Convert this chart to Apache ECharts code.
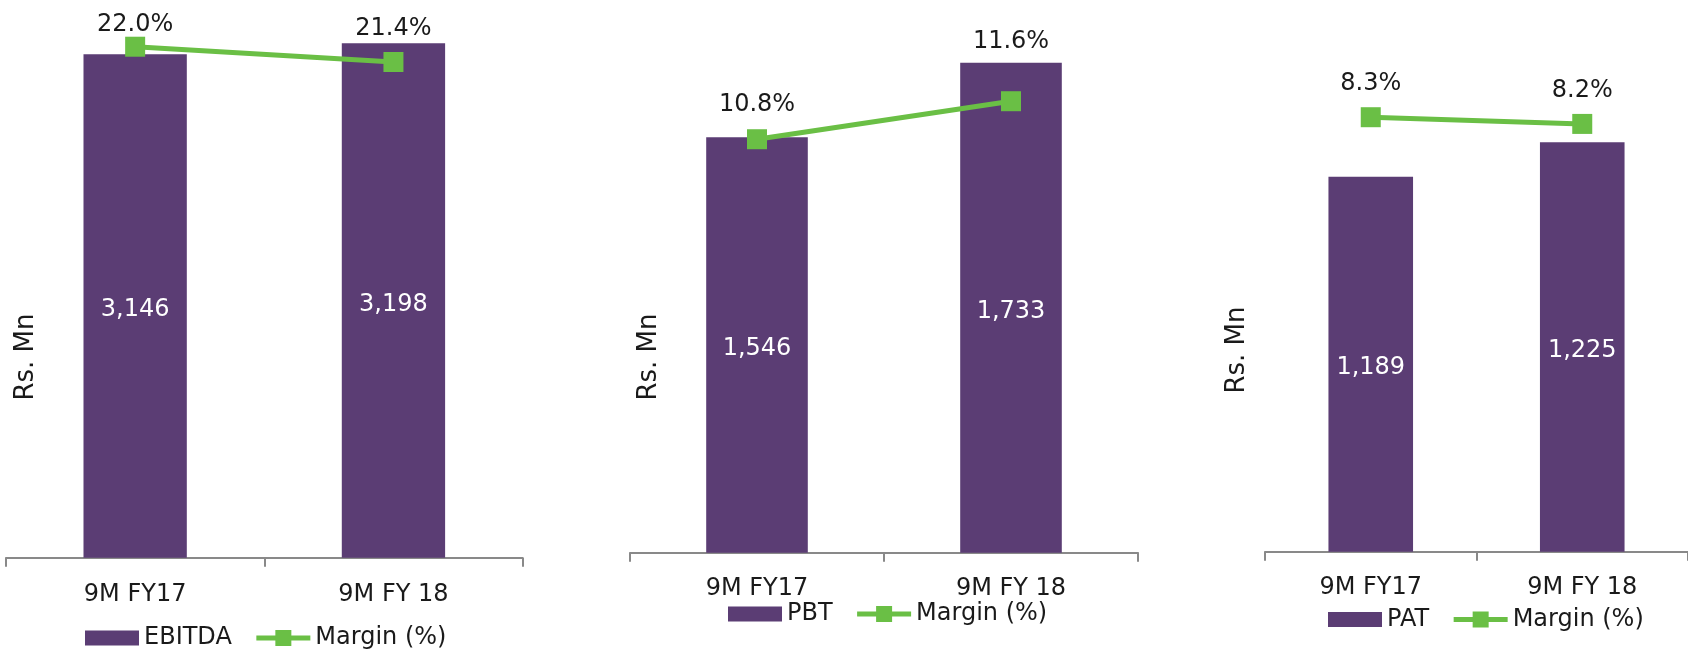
<!DOCTYPE html>
<html>
<head>
<meta charset="utf-8">
<script src="https://cdn.jsdelivr.net/npm/echarts@6/dist/echarts.min.js"></script>
<style>
  html, body { margin: 0; padding: 0; background: #ffffff; }
  #chart { width: 1688px; height: 649px; }
</style>
</head>
<body>
<div id="chart"></div>
<script>
// ---- Data ----
const categories = ['9M FY17', '9M FY 18'];
const ebitda = [3146, 3198];
const ebitdaMargin = [22.0, 21.4];
const pbt = [1546, 1733];
const pbtMargin = [10.8, 11.6];
const pat = [1189, 1225];
const patMargin = [8.3, 8.2];
const barNames = ['EBITDA', 'PBT', 'PAT'];
const lineName = 'Margin (%)';
const axisTitle = 'Rs. Mn';

// ---- Layout / style (not data) ----
const PURPLE = '#5B3D74';
const GREEN = '#6ABF45';
const TEXT = '#1a1a1a';
const AXIS = '#898989';
const FONT = '"DejaVu Sans", sans-serif';
const H = 649;
const layout = [
  { left: 6,    width: 516.6, axisY: 557.7, vMin: 766,   vMax: 3355.6, mMin: 1.96,  mMax: 23.44, dist: [0, 11],    legLeft: 80,   legTop: 621,   rs: [26, 357],   catMargin: 25 },
  { left: 630,  width: 508,   axisY: 552.7, vMin: 504.6, vMax: 1865.1, mMin: 2.097, mMax: 13.52, dist: [12.5, 37], legLeft: 723,  legTop: 597,   rs: [649, 357],  catMargin: 24 },
  { left: 1265, width: 434,   axisY: 551.7, vMin: 796.6, vMax: 1363.5, mMin: 1.816, mMax: 9.90,  dist: [11.5, 11], legLeft: 1323, legTop: 602.5, rs: [1237, 350], catMargin: 24 }
];
const barData = [ebitda, pbt, pat];
const marginData = [ebitdaMargin, pbtMargin, patMargin];
const GRID_TOP = 10;

const grids = [], xAxes = [], yAxes = [], series = [], legends = [], graphics = [];
layout.forEach((L, i) => {
  grids.push({ left: L.left, width: L.width, top: GRID_TOP, bottom: H - L.axisY, containLabel: false });
  xAxes.push({
    type: 'category', gridIndex: i, data: categories, boundaryGap: true,
    axisLine: { show: true, lineStyle: { color: AXIS, width: 2 } },
    axisTick: { show: true, length: 9, lineStyle: { color: AXIS, width: 2 } },
    axisLabel: { fontSize: 24, color: TEXT, fontFamily: FONT, margin: L.catMargin }
  });
  yAxes.push({ type: 'value', gridIndex: i, min: L.vMin, max: L.vMax, show: false, splitLine: { show: false } });
  yAxes.push({ type: 'value', gridIndex: i, min: L.mMin, max: L.mMax, show: false, splitLine: { show: false } });
  series.push({
    name: barNames[i], type: 'bar', xAxisIndex: i, yAxisIndex: 2 * i,
    data: barData[i], barWidth: '40%', itemStyle: { color: PURPLE },
    label: {
      show: true, position: 'inside', offset: [0, 4], color: '#ffffff', fontSize: 24, fontFamily: FONT,
      formatter: p => p.value.toLocaleString('en-US')
    },
    z: 2
  });
  series.push({
    name: lineName, type: 'line', xAxisIndex: i, yAxisIndex: 2 * i + 1,
    data: marginData[i].map((v, j) => ({ value: v, label: { distance: L.dist[j] } })),
    symbol: 'rect', symbolSize: 20,
    lineStyle: { color: GREEN, width: 5 },
    itemStyle: { color: GREEN },
    label: {
      show: true, position: 'top', color: TEXT, fontSize: 24, fontFamily: FONT,
      formatter: p => p.value.toFixed(1) + '%'
    },
    z: 5
  });
  legends.push({
    left: L.legLeft, top: L.legTop, orient: 'horizontal',
    itemWidth: 54, itemHeight: 20, itemGap: 22,
    lineStyle: { width: 5 },
    textStyle: { fontSize: 24, color: TEXT, fontFamily: FONT },
    data: [{ name: barNames[i], icon: 'path://M0,0H54V15H0Z' }, lineName],
    selectedMode: false
  });
  graphics.push({
    type: 'text', x: L.rs[0], y: L.rs[1], rotation: Math.PI / 2,
    style: { text: axisTitle, fill: TEXT, font: '26px ' + FONT, align: 'center', verticalAlign: 'middle' }
  });
});

const chart = echarts.init(document.getElementById('chart'), null, { renderer: 'canvas' });
chart.setOption({
  backgroundColor: '#ffffff',
  animation: false,
  grid: grids,
  xAxis: xAxes,
  yAxis: yAxes,
  legend: legends,
  series: series,
  graphic: graphics
});
</script>
</body>
</html>
